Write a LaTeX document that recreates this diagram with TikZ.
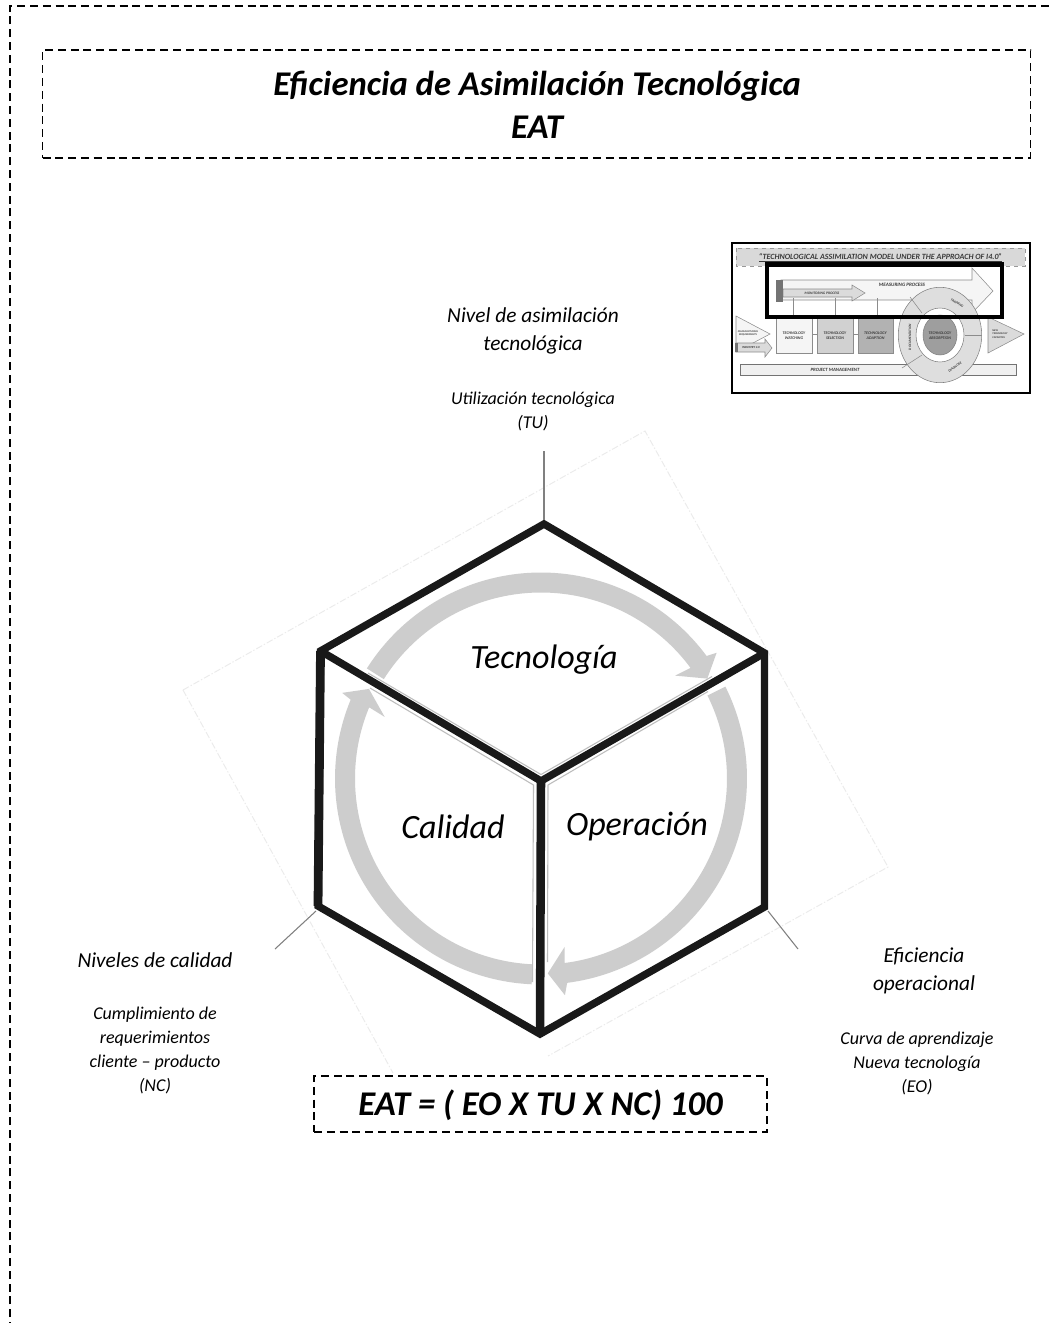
\documentclass[tikz,border=0pt]{standalone}
\usepackage{fontspec}
\setmainfont{Carlito}
\usetikzlibrary{calc}
\definecolor{ringgrey}{HTML}{CDCDCD}
\definecolor{hairgrey}{HTML}{BDBDBD}
\definecolor{ghostgrey}{HTML}{EBEBEB}
\definecolor{spokegrey}{HTML}{808080}
\definecolor{thumbtext}{HTML}{3A3A3A}
\tikzset{
  x=0.75pt,y=0.75pt,
  framebox/.style={draw=black,line width=0.95pt,dash pattern=on 6pt off 3.6pt,fill=white},
  edgeline/.style={draw=black!90,line width=5.6pt,line join=miter,miter limit=4},
  spoke/.style={draw=spokegrey,line width=0.8pt},
  hair/.style={draw=hairgrey,line width=0.8pt,line join=round},
  ghost/.style={draw=ghostgrey,line width=0.7pt,dash pattern=on 5pt off 1.5pt on 1pt off 1.5pt},
  ring/.style={fill=ringgrey},
  lbl/.style={align=center,inner sep=0pt,font=\itshape},
  big/.style={lbl,font=\fontsize{25.5}{30}\selectfont\itshape},
  head/.style={lbl,font=\fontsize{16}{21}\selectfont\itshape},
  sub/.style={lbl,font=\fontsize{13.5}{18}\selectfont\itshape},
  ttl/.style={lbl,font=\fontsize{26}{32.25}\selectfont\bfseries\itshape},
  thumbbox/.style={draw=black!45,line width=0.4pt},
  tt/.style={inner sep=0pt,align=center,text=thumbtext,font=\fontsize{3}{3.6}\selectfont\bfseries\itshape},
}
\begin{document}
\begin{tikzpicture}
\useasboundingbox (0,0) rectangle (1050,-1323);
\fill[white] (0,0) rectangle (1050,-1323);
% page frame
\coordinate (fa) at (10,-1330);
\coordinate (fb) at (10,-6);
\coordinate (fc) at (1056,-6);
\draw[framebox,fill=none] (fa) -- (fb) -- (fc);
\node[framebox,minimum width=741pt,minimum height=81pt,inner sep=0pt] (titlebox) at (536.5,-104) {};
\node[ttl] (title) at (537,-104.5) {Eficiencia de Asimilación Tecnológica\\EAT};
% ghost square
\coordinate (ga) at (645,-431);
\coordinate (gb) at (888,-867);
\coordinate (gc) at (183,-690);
\coordinate (gd) at (393,-1073);
\coordinate (ge) at (548,-1056);
\draw[ghost] (gc) -- (ga) -- (gb) -- (ge);
\draw[ghost] (gc) -- (gd);
% ring
\coordinate (C) at (541,-778.5);
\fill[ring] ($(C)+(147.7:206)$) arc[start angle=147.7,end angle=36.5,radius=206]
  -- ($(C)+(35.6:216)$) -- ($(C)+(31:194)$) -- ($(C)+(37.5:169)$) -- ($(C)+(36.5:186)$)
  arc[start angle=36.5,end angle=147.7,radius=186] -- cycle;
\fill[ring] ($(C)+(26.5:206)$) arc[start angle=26.5,end angle=-82.7,radius=206]
  -- ($(C)+(-83.7:218)$) -- ($(C)+(-88:195)$) -- ($(C)+(-82:170)$) -- ($(C)+(-82.7:186)$)
  arc[start angle=-82.7,end angle=26.5,radius=186] -- cycle;
\fill[ring] ($(C)+(-92.6:206)$) arc[start angle=-92.6,end angle=-202.5,radius=206]
  -- ($(C)+(-203.3:216.5)$) -- ($(C)+(-207.5:194)$) -- ($(C)+(-201.5:168)$) -- ($(C)+(-202.5:186)$)
  arc[start angle=-202.5,end angle=-92.6,radius=186] -- cycle;
% hairlines beside the cube edges
\draw[hair] (368,-673) -- (541,-774.5) -- (712,-676.5);
\draw[hair] (370,-688) -- (533.5,-785) -- (532.5,-982);
\draw[hair] (708,-691.5) -- (548,-785) -- (547.5,-962);
% cube
\coordinate (vt) at (544,-524);
\coordinate (vr) at (764.5,-653);
\coordinate (vbr) at (764.5,-907);
\coordinate (vb) at (540,-1034);
\coordinate (vbl) at (318,-906);
\coordinate (vl) at (320.5,-651);
\coordinate (vc) at (541,-781);
\draw[edgeline] (vt) -- (vr) -- (vbr) -- (vb) -- (vbl) -- (vl) -- cycle;
\draw[edgeline] (vl) -- (vc) -- (vr);
\draw[edgeline,line width=6.4pt] (vc) -- (vb);
\draw[edgeline,line width=6.6pt] (vbl) -- (vl);
% spokes
\coordinate (st) at (544,-451);
\coordinate (sl) at (275,-949);
\coordinate (sr) at (798,-949);
\coordinate (ptop) at (544,-520);
\coordinate (pbl) at (316,-911);
\coordinate (pbr) at (768,-911);
\draw[spoke] (st) -- (ptop);
\draw[spoke] (sl) -- (pbl);
\draw[spoke] (sr) -- (pbr);
% face labels
\node[big] (ftec) at (544,-660) {Tecnología};
\node[big] (fcal) at (453,-827) {Calidad};
\node[big] (fope) at (637,-827) {Operación};
% axis labels
\node[head] (h1) at (533,-331) {Nivel de asimilación\\tecnológica};
\node[sub] (s1) at (533,-411) {Utilización tecnológica\\(TU)};
\node[head] (h2) at (155,-960) {Niveles de calidad};
\node[sub] (s2) at (155,-1050) {Cumplimiento de\\requerimientos\\cliente – producto\\(NC)};
\node[head] (h3) at (924,-971) {Eficiencia\\operacional};
\node[sub] (s3) at (917,-1063) {Curva de aprendizaje\\Nueva tecnología\\(EO)};
% equation
\node[framebox,minimum width=339.75pt,minimum height=42pt,inner sep=0pt] (eqbox) at (540.5,-1104) {};
\node[lbl,font=\fontsize{26}{30}\selectfont\bfseries\itshape] (eq) at (540.5,-1105) {EAT = ( EO X TU X NC) 100};
% ---------- thumbnail ----------
\fill[white] (732,-243) rectangle (1030,-393);
\draw[draw=black!40,fill=black!15,line width=0.3pt,dashed] (736,-248) rectangle (1025,-266);
\node[tt,font=\fontsize{6}{7}\selectfont\bfseries\itshape] (tband) at (880.5,-258) {\underline{“TECHNOLOGICAL ASSIMILATION MODEL UNDER THE APPROACH OF I4.0”}};
\node[draw=black!55,fill=black!6,line width=0.4pt,minimum width=207pt,minimum height=8pt,inner sep=0pt] (tbar0) at (878.5,-369.5) {};
\node[tt,font=\fontsize{3.6}{4}\selectfont\bfseries\itshape] (tpm) at (835,-369.5) {PROJECT MANAGEMENT};
% measuring arrow
\draw[thumbbox,fill=black!4] (781,-280) -- (972,-280) -- (972,-268) -- (993,-291) -- (972,-313) -- (972,-300) -- (781,-300) -- cycle;
\node[tt,font=\fontsize{3.8}{4}\selectfont\bfseries\itshape] (tmeas) at (902,-285) {MEASURING PROCESS};
\draw[thumbbox,fill=black!14] (783,-289) -- (852,-289) -- (852,-285) -- (865,-293) -- (852,-301) -- (852,-297) -- (783,-297) -- cycle;
\node[tt,font=\fontsize{2.7}{3}\selectfont\bfseries\itshape] (tmon) at (822,-293) {MONITORING PROCESS};
\fill[black!55] (776,-280) rectangle (783,-302);
% boxes
\node[thumbbox,fill=black!4,minimum width=27pt,minimum height=28.5pt,inner sep=0pt] (tb1) at (794,-334) {};
\node[thumbbox,fill=black!18,minimum width=27pt,minimum height=28.5pt,inner sep=0pt] (tb2) at (835,-334) {};
\node[thumbbox,fill=black!30,minimum width=26.5pt,minimum height=28.5pt,inner sep=0pt] (tb3) at (875.5,-334) {};
\node[tt] (tt1) at (794,-336) {TECHNOLOGY\\WATCHING};
\node[tt] (tt2) at (835,-336) {TECHNOLOGY\\SELECTION};
\node[tt] (tt3) at (875.5,-336) {TECHNOLOGY\\ADAPTION};
\coordinate (m1) at (793,-298);
\coordinate (m2) at (835,-298);
\coordinate (m3) at (877,-298);
\draw[thumbbox] (m1) -- (m1 |- tb1.north);
\draw[thumbbox] (m2) -- (m2 |- tb2.north);
\draw[thumbbox] (m3) -- (m3 |- tb3.north);
\draw[thumbbox] (tb1.east) -- (tb2.west);
\draw[thumbbox] (tb2.east) -- (tb3.west);
% side arrows
\draw[thumbbox,fill=black!4] (736,-316) -- (770,-334) -- (736,-352) -- cycle;
\node[tt,font=\fontsize{2}{2.5}\selectfont\bfseries\itshape] (tman) at (748,-333) {MANUFACTURING\\REQUIREMENTS};
\draw[thumbbox,fill=black!14] (736,-343) -- (765,-343) -- (765,-339) -- (772,-348) -- (765,-357) -- (765,-352) -- (736,-352) -- cycle;
\fill[black!55] (735,-343) rectangle (738,-352);
\node[tt,font=\fontsize{2.3}{3}\selectfont\bfseries\itshape] (tind) at (751,-348) {INDUSTRY 4.0};
\draw[thumbbox,fill=black!14] (988,-317) -- (1024,-334) -- (988,-353) -- cycle;
\node[tt,align=left,font=\fontsize{2}{2.6}\selectfont\bfseries\itshape] (tnew) at (1000,-334) {NEW\\TECHNOLOGY\\CAPACITIES};
% wheel
\coordinate (W) at (940,-335);
\filldraw[draw=black!50,fill=black!13,line width=0.4pt] (W) ellipse [x radius=41.7,y radius=47.7];
\draw[thumbbox] (910,-297) -- (922,-313);
\draw[thumbbox] (902,-368) -- (922,-355);
\draw[thumbbox] (965,-335) -- (982,-335);
\filldraw[draw=black!50,fill=white,line width=0.4pt] (W) ellipse [x radius=24,y radius=27];
\filldraw[draw=black!50,fill=black!38,line width=0.4pt] (W) ellipse [x radius=17,y radius=20];
\node[tt] (twc) at (940,-336) {TECHNOLOGY\\ABSORPTION};
\node[tt,rotate=-32,font=\fontsize{2.6}{3}\selectfont\bfseries\itshape] (ttr) at (957,-303) {TRAINING};
\node[tt,rotate=90,font=\fontsize{2.6}{3}\selectfont\bfseries\itshape] (tdoc) at (910,-337) {DOCUMENTATION};
\node[tt,rotate=35,font=\fontsize{2.6}{3}\selectfont\bfseries\itshape] (tdia) at (955,-367) {DIAGNOSE};
% frames
\draw[black,line width=1.5pt] (732,-243) rectangle (1030,-393);
\draw[black,line width=3.6pt] (767,-264.5) rectangle (1002,-317);
\end{tikzpicture}
\end{document}
